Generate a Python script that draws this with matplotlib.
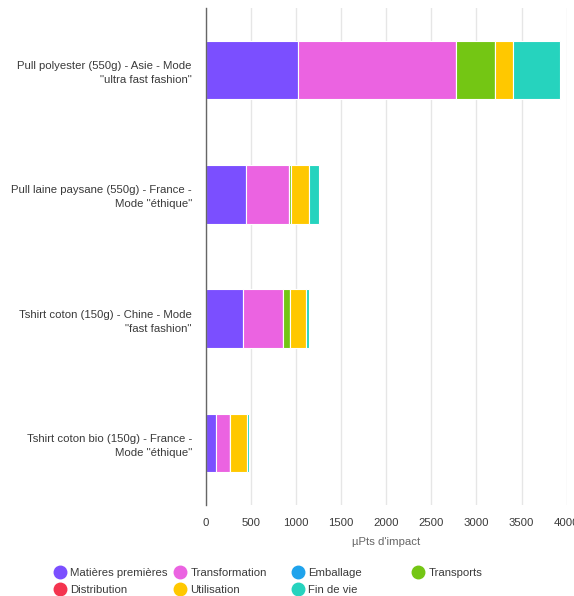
import matplotlib
matplotlib.use("Agg")
import matplotlib.pyplot as plt
from matplotlib.lines import Line2D

plt.rcParams['font.family'] = ['Liberation Sans', 'DejaVu Sans']

categories = [
    'Pull polyester (550g) - Asie - Mode\n"ultra fast fashion"',
    'Pull laine paysane (550g) - France -\nMode "éthique"',
    'Tshirt coton (150g) - Chine - Mode\n"fast fashion"',
    'Tshirt coton bio (150g) - France -\nMode "éthique"',
]
series_names = ['Matières premières', 'Transformation', 'Emballage', 'Transports',
                'Distribution', 'Utilisation', 'Fin de vie']
series_colors = ['#7B4FFF', '#EB63E1', '#1FA3EC', '#74C614', '#F4344F', '#FFC800', '#26D3BE']

matieres = [1024, 446, 416, 117]
transformation = [1744, 479, 436, 152]
emballage = [0, 0, 0, 0]
transports = [443, 15, 80, 5]
distribution = [0, 0, 0, 0]
utilisation = [192, 206, 177, 180]
fin_de_vie = [527, 104, 37, 25]
series_values = [matieres, transformation, emballage, transports, distribution, utilisation, fin_de_vie]

xticks = [0, 500, 1000, 1500, 2000, 2500, 3000, 3500, 4000]

fig = plt.figure(figsize=(5.74, 5.96), dpi=100)
ax = fig.add_axes([205.7/574, 1-505/596, (566.7-205.7)/574, (505-8)/596])

ypos = list(range(len(categories)))
left = [0]*len(categories)
for name, vals, col in zip(series_names, series_values, series_colors):
    ax.barh(ypos, vals, left=left, height=0.47, color=col, edgecolor='white', linewidth=0.8, label=name)
    left = [l+v for l, v in zip(left, vals)]

ax.set_ylim(len(categories)-0.5, -0.5)
ax.set_xlim(0, 4000)
ax.set_xticks(xticks)
ax.set_xticklabels([str(t) for t in xticks])
ax.set_yticks(ypos)
ax.set_yticklabels(categories, fontsize=8.2, color='#3a3a3a', linespacing=1.5)
ax.tick_params(axis='x', labelsize=8.2, colors='#3a3a3a', length=0, pad=9.5)
ax.tick_params(axis='y', length=0, pad=10)
ax.xaxis.grid(True, color='#e6e6e6', linewidth=1)
ax.set_axisbelow(True)
for s in ['top', 'right', 'bottom']:
    ax.spines[s].set_visible(False)
ax.spines['left'].set_color('#666666')
ax.spines['left'].set_linewidth(1)
ax.set_xlabel("µPts d'impact", fontsize=8.2, color='#666666', labelpad=6)

# Legend: four columns at fixed positions
cols = [[0, 4], [1, 5], [2, 6], [3]]
col_x = [47, 167, 285, 405]
for ci, idxs in enumerate(cols):
    handles = [Line2D([], [], marker='o', linestyle='none', markersize=9,
                      markerfacecolor=series_colors[i], markeredgecolor=series_colors[i])
               for i in idxs]
    labels = [series_names[i] for i in idxs]
    fig.legend(handles, labels, loc='upper left', bbox_to_anchor=(col_x[ci]/574, 1-562/596),
               frameon=False, fontsize=8.2, handletextpad=0.35, labelspacing=0.6,
               borderpad=0, handlelength=1.2, labelcolor='#3a3a3a')

fig.savefig('out.png', dpi=100)
